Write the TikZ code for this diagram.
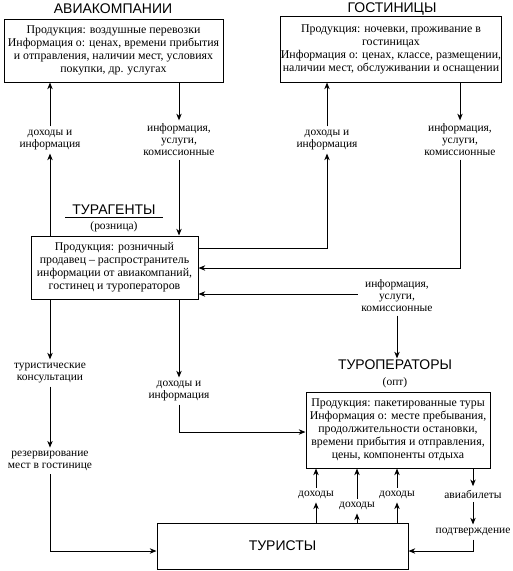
\documentclass[tikz,border=0pt]{standalone}
\usepackage{fontspec}
\setmainfont{Liberation Serif}
\newfontfamily\serfont{Liberation Serif}
\newfontfamily\ttlfont{Liberation Sans}
\usetikzlibrary{arrows.meta,calc}
\begin{document}
\begin{tikzpicture}[x=0.75pt,y=-0.75pt,
  box/.style={draw,line width=0.75pt,align=center,inner sep=0pt,font=\serfont\fontsize{8.9}{9.75}\selectfont},
  lab/.style={align=center,inner sep=2.5pt,font=\serfont\fontsize{8.6}{9}\selectfont},
  ttlnode/.style={font=\ttlfont\fontsize{10.5}{12}\selectfont,inner sep=1pt},
  subnode/.style={font=\serfont\fontsize{8.6}{9}\selectfont,inner sep=1pt},
  arr/.style={line width=0.75pt,-{Stealth[length=5pt,width=4pt,inset=1.5pt]}},
  ln/.style={line width=0.75pt}]
\useasboundingbox (0,0) rectangle (513,571);

% titles
\node[ttlnode] (tair) at (113,9) {АВИАКОМПАНИИ};
\node[ttlnode] (thotel) at (392,9) {ГОСТИНИЦЫ};
\node[ttlnode,inner sep=2pt] (tta) at (114,210) {ТУРАГЕНТЫ};
\node[subnode] (tta2) at (114,227) {(розница)};
\node[ttlnode] (tto) at (395,365) {ТУРОПЕРАТОРЫ};
\node[subnode] (tto2) at (395,383) {(опт)};
\draw[ln] ([xshift=-3pt]tta.south west) -- ([xshift=3pt]tta.south east);

% boxes
\node[box,minimum width=164.25pt,minimum height=47.25pt] (air) at (113.5,50.5)
  {Продукция: воздушные перевозки\\Информация о: ценах, времени прибытия\\и отправления, наличии мест, условиях\\покупки, др. услугах};
\node[box,minimum width=165pt,minimum height=49.5pt] (hotel) at (391,49)
  {Продукция: ночевки, проживание в\\гостиницах\\Информация о: ценах, классе, размещении,\\наличии мест, обслуживании и оснащении};
\node[box,minimum width=125.25pt,minimum height=47.25pt] (ta) at (114.5,267.5)
  {Продукция: розничный\\продавец – распространитель\\информации от авиакомпаний,\\гостинец и туроператоров};
\node[box,minimum width=138pt,minimum height=57pt] (to) at (398,430)
  {Продукция: пакетированные туры\\Информация о: месте пребывания,\\продолжительности остановки,\\времени прибытия и отправления,\\цены, компоненты отдыха};
\node[box,minimum width=188.25pt,minimum height=34.5pt,font=\ttlfont\fontsize{10.5}{12}\selectfont] (tour) at (282.5,546) {ТУРИСТЫ};

% labels
\node[lab] (l1) at (50,140) {доходы и\\информация};
\node[lab] (l2) at (179,140) {информация,\\услуги,\\комиссионные};
\node[lab] (l3) at (327,140) {доходы и\\информация};
\node[lab] (l4) at (460,140) {информация,\\услуги,\\комиссионные};
\node[lab] (l5) at (397,296) {информация,\\услуги,\\комиссионные};
\node[lab] (l6) at (50,373) {туристические\\консультации};
\node[lab] (l7) at (50,461) {резервирование\\мест в гостинице};
\node[lab] (l8) at (179,391) {доходы и\\информация};
\node[lab] (l9) at (316,495) {доходы};
\node[lab] (l10) at (357,506) {доходы};
\node[lab] (l11) at (397,495) {доходы};
\node[lab] (l12) at (473,494) {авиабилеты};
\node[lab] (l13) at (473,532) {подтверждение};

\coordinate (c3) at (327,248);
\coordinate (c4) at (0,268);
\coordinate (c5) at (0,294);
\coordinate (c7) at (0,551);
\coordinate (c8) at (0,432);

% connectors
\draw[arr] (ta.north -| l1) -- (l1.south);
\draw[arr] (l1.north) -- (air.south -| l1);
\draw[arr] (air.south -| l2) -- (l2.north);
\draw[arr] (l2.south) -- (ta.north -| l2);
\draw[arr] (l3.north) -- (hotel.south -| l3);
\draw[arr] (ta.east |- c3) -- (c3) -- (l3.south);
\draw[arr] (hotel.south -| l4) -- (l4.north);
\draw[arr] (l4.south) |- (ta.east |- c4);
\draw[arr] (l5.west |- c5) -- (ta.east |- c5);
\draw[arr] (l5.south) -- (tto.north -| l5);
\draw[arr] (ta.south -| l6) -- (l6.north);
\draw[arr] (l6.south) -- (l7.north);
\draw[arr] (l7.south) |- (tour.west |- c7);
\draw[arr] (ta.south -| l8) -- (l8.north);
\draw[arr] (l8.south) |- (to.west |- c8);
\draw[arr] (tour.north -| l9) -- (l9.south);
\draw[arr] (l9.north) -- (to.south -| l9);
\draw[arr] (tour.north -| l10) -- (l10.south);
\draw[arr] (l10.north) -- (to.south -| l10);
\draw[arr] (tour.north -| l11) -- (l11.south);
\draw[arr] (l11.north) -- (to.south -| l11);
\draw[arr] (to.south -| l12) -- (l12.north);
\draw[arr] (l12.south) -- (l13.north);
\draw[arr] (l13.south) |- (tour.east |- c7);
\end{tikzpicture}
\end{document}
